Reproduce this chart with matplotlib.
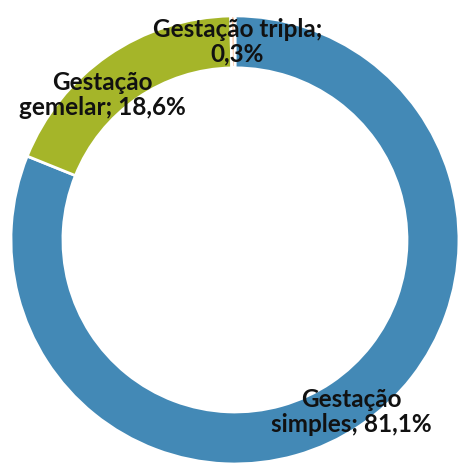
import matplotlib
matplotlib.use("Agg")
import matplotlib.pyplot as plt

labels = ["Gestação\nsimples; 81,1%", "Gestação\ngemelar; 18,6%", "Gestação tripla;\n0,3%"]
values = [81.1, 18.6, 0.3]
colors = ["#4389B6", "#A5B529", "#F4B183"]

# where each label sits (data units, pie radius = 1)
label_pos = [(0.52, -0.77), (-0.59, 0.645), (0.01, 0.885)]

fig = plt.figure(figsize=(4.67, 4.70), dpi=100)
ax = fig.add_axes([0, 0, 1, 1])

ax.pie(values, colors=colors, startangle=90, counterclock=False, radius=1.0,
       wedgeprops=dict(width=0.232, edgecolor="white", linewidth=2))

for lab, (x, y) in zip(labels, label_pos):
    ax.text(x, y, lab, ha="center", va="center", fontsize=17.5, fontweight="bold",
            family="Lato", linespacing=1.1, color="#111111")

ax.set_xlim(-1.049, 1.036)
ax.set_ylim(-1.027, 1.071)
ax.set_aspect("auto")
ax.axis("off")

fig.savefig("out.png", dpi=100)
